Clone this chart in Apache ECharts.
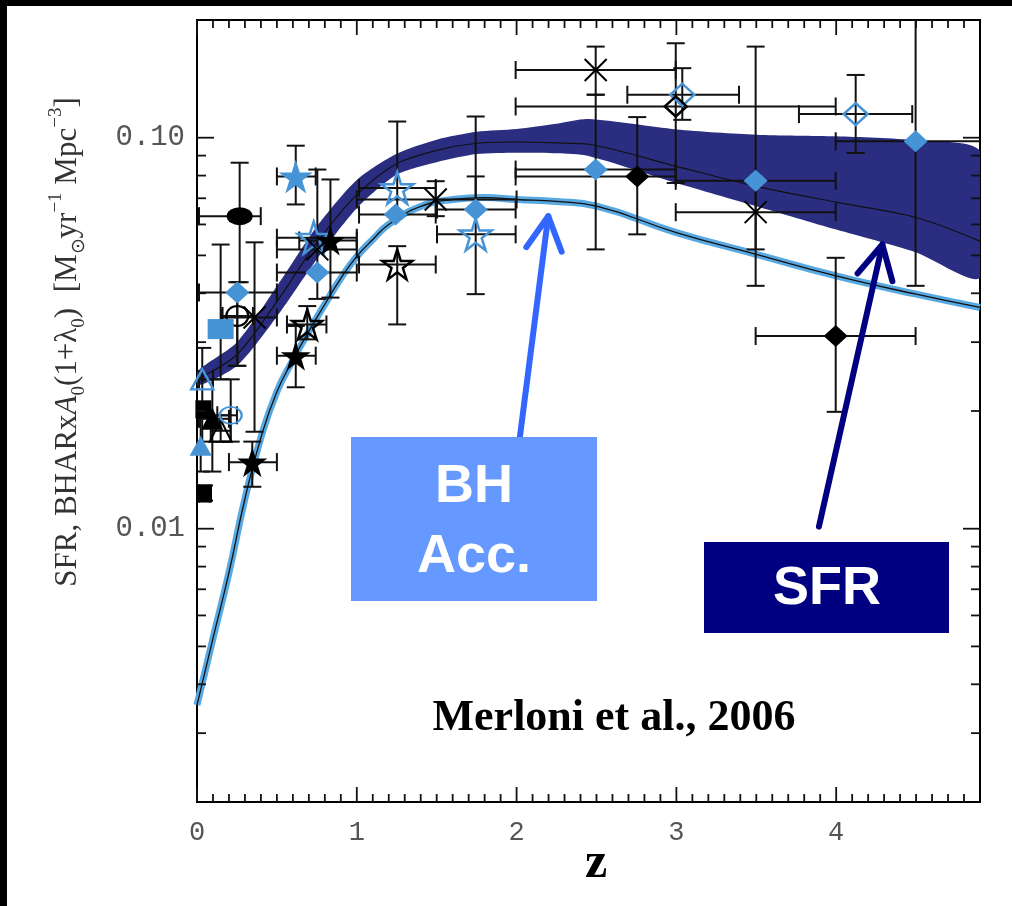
<!DOCTYPE html>
<html>
<head>
<meta charset="utf-8">
<script src="https://cdn.jsdelivr.net/npm/echarts@6/dist/echarts.min.js"></script>
<style>
  html, body { margin: 0; padding: 0; background: #fff; }
  #chart { width: 1012px; height: 906px; }
</style>
</head>
<body>
<div id="chart"></div>
<script>
// Axis ranges
const Z_MIN = 0, Z_MAX = 4.9;
const V_MIN = 0.002, V_MAX = 0.2;

// Tick positions
const xMajorTicks = [0, 1, 2, 3, 4];
const xMinorTicks = [];
for (let i = 1; i < 49; i++) { if (i % 10) xMinorTicks.push(i / 10); }
const yMajorTicks = [0.01, 0.1];
const yMinorTicks = [0.003, 0.004, 0.005, 0.006, 0.007, 0.008, 0.009,
                     0.02, 0.03, 0.04, 0.05, 0.06, 0.07, 0.08, 0.09];

// Star formation rate density: model band and central curve
const sfrZ     = [0, 0.25, 0.5, 0.75, 1.0, 1.25, 1.5, 1.75, 2.0, 2.25, 2.45, 3.0, 3.5, 4.0, 4.5, 4.9];
const sfrUpper = [0.0252, 0.0300, 0.0417, 0.0593, 0.0780, 0.0910, 0.0988, 0.1035, 0.1052, 0.1085, 0.1116, 0.1050, 0.1018, 0.1008, 0.0984, 0.0923];
const sfrLower = [0.0232, 0.0261, 0.0349, 0.0489, 0.0660, 0.0805, 0.0866, 0.0908, 0.0915, 0.0912, 0.0898, 0.0766, 0.0668, 0.0582, 0.0509, 0.0439];
const sfrMid   = [0.0241, 0.0279, 0.0381, 0.0539, 0.0715, 0.0858, 0.0928, 0.0968, 0.0975, 0.0970, 0.0962, 0.0845, 0.0751, 0.0684, 0.0625, 0.0544];

// Black-hole accretion rate density (scaled)
const bhZ    = [0, 0.1, 0.2, 0.3, 0.4, 0.5, 0.6, 0.7, 0.8, 0.9, 1.0, 1.1, 1.2, 1.4, 1.6, 1.8, 2.0, 2.25, 2.5, 3.0, 3.5, 4.0, 4.5, 4.9];
const bhRate = [0.00354, 0.00524, 0.00772, 0.01193, 0.01710, 0.0224, 0.0270, 0.0320, 0.0375, 0.0437, 0.0497, 0.0549, 0.0600, 0.0667, 0.0695, 0.0703, 0.0695, 0.0687, 0.0668, 0.0572, 0.0503, 0.0443, 0.0398, 0.0368];

// Observations: [z, value, zLow, zHigh, valueLow, valueHigh]
const blackStarFilled = [
  [0.346, 0.0148, 0.20, 0.50, 0.0128, 0.0167],
  [0.618, 0.0277, 0.50, 0.743, 0.0230, 0.0330],
  [0.835, 0.0546, 0.64, 1.00, 0.0390, 0.0782]
];
const blackStarOpen = [
  [0.69, 0.0333, 0.563, 0.81, 0.0305, 0.0371],
  [1.253, 0.0474, 1.014, 1.494, 0.0333, 0.0528]
];
const blueStarFilled = [
  [0.618, 0.0796, 0.50, 0.743, 0.0675, 0.0954]
];
const blueStarOpen = [
  [0.73, 0.0555, 0.50, 1.00, null, null],
  [1.253, 0.0744, 1.014, 1.494, 0.0636, 0.1100],
  [1.744, 0.0566, 1.502, 1.994, 0.0398, 0.0796]
];
const blackCross = [
  [0.36, 0.0347, 0.156, 0.50, 0.0177, 0.0540],
  [0.753, 0.0518, 0.50, 1.00, 0.0387, 0.0829],
  [1.494, 0.0695, 1.00, 2.00, 0.0630, 0.0774],
  [2.495, 0.1490, 1.994, 2.996, 0.1288, 0.1710],
  [3.496, 0.0645, 2.996, 3.997, 0.0518, 0.0776]
];
const blueDiamondFilled = [
  [0.252, 0.0402, 0.0125, 0.50, 0.0261, null],
  [0.753, 0.0452, 0.50, 1.00, null, null],
  [1.243, 0.0636, 1.014, 1.494, null, null],
  [1.744, 0.0655, 1.502, 1.994, null, 0.1133],
  [2.495, 0.0829, 1.994, 2.996, 0.0518, 0.1288],
  [3.496, 0.0776, 2.996, 3.997, 0.0418, 0.1710],
  [4.497, 0.0979, 3.997, 5.00, 0.0418, 0.3000]
];
const blueDiamondOpen = [
  [3.037, 0.1288, 2.693, 3.392, 0.1111, 0.1506],
  [4.122, 0.1149, 3.767, 4.476, 0.0914, 0.1447]
];
const blackDiamondOpen = [
  [2.996, 0.1202, 1.994, 3.997, 0.0766, 0.1744]
];
const blackDiamondFilled = [
  [2.755, 0.0796, 1.994, 2.996, 0.0566, 0.1129],
  [3.997, 0.0311, 3.496, 4.497, 0.0199, 0.0493]
];
const blackEllipse = [
  [0.267, 0.0630, 0.0125, 0.399, 0.0427, 0.0863]
];
const blackCircleOpen = [
  [0.252, 0.0350, 0.16, 0.35, 0.0261, 0.0427]
];
const blueSquare = [
  [0.148, 0.0324, null, null, 0.0241, 0.0533]
];
const blueTriangleOpen = [
  [0.033, 0.0241, 0.0125, 0.10, 0.0167, 0.0290]
];
const blueTriangleFilled = [
  [0.023, 0.0163, null, null, 0.0140, 0.0195]
];
const blackTriangleFilled = [
  [0.096, 0.0191, 0.0125, 0.20, 0.0140, 0.0241]
];
const blackTriangleOpen = [
  [0.148, 0.0178, 0.086, 0.21, 0.0167, 0.0195]
];
const blueCircleOpen = [
  [0.211, 0.0195, 0.127, 0.25, 0.0167, 0.0241]
];
const blackSquare = [
  [0.044, 0.0123, 0.0125, 0.08, 0.0118, 0.0129],
  [0.040, 0.0202, null, null, null, null]
];

// Annotation arrows: [zTail, valueTail, zTip, valueTip]
const bhArrow  = [2.015, 0.01647, 2.198, 0.0630];
const sfrArrow = [3.892, 0.01012, 4.289, 0.0533];

const BLUE = '#4694d6';
const NAVY_BAND = '#2b2d80';
const STAR = 'path://M50,0L61.17,34.63L97.55,34.55L68.07,55.87L79.39,90.45L50,69L20.61,90.45L31.93,55.87L2.45,34.55L38.83,34.63Z';
const CROSS = 'path://M0,0L10,10M10,0L0,10';

const ok = v => v != null && !isNaN(v);

function renderBand(params, api) {
  if (params.dataIndexInside !== 0) return null;
  const n = params.dataInsideLength;
  const pts = [];
  for (let i = 0; i < n; i++) pts.push(api.coord([api.value(0, i), api.value(2, i)]));
  for (let i = n - 1; i >= 0; i--) pts.push(api.coord([api.value(0, i), api.value(1, i)]));
  return { type: 'polygon', shape: { points: pts, smooth: 0.25 }, style: { fill: NAVY_BAND } };
}

function renderErrors(params, api) {
  const z = api.value(0), v = api.value(1);
  const zl = api.value(2), zh = api.value(3), vl = api.value(4), vh = api.value(5);
  const c = api.coord([z, v]);
  const cap = 9;
  const style = { stroke: '#111', lineWidth: 2 };
  const kids = [];
  const line = (x1, y1, x2, y2) => kids.push({ type: 'line', shape: { x1, y1, x2, y2 }, style });
  if (ok(zl) || ok(zh)) {
    const a = ok(zl) ? api.coord([zl, v])[0] : c[0];
    const b = ok(zh) ? api.coord([zh, v])[0] : c[0];
    line(a, c[1], b, c[1]);
    if (ok(zl)) line(a, c[1] - cap, a, c[1] + cap);
    if (ok(zh)) line(b, c[1] - cap, b, c[1] + cap);
  }
  if (ok(vl) || ok(vh)) {
    const a = ok(vl) ? api.coord([z, vl])[1] : c[1];
    const b = ok(vh) ? api.coord([z, vh])[1] : c[1];
    line(c[0], a, c[0], b);
    if (ok(vl)) line(c[0] - cap, a, c[0] + cap, a);
    if (ok(vh)) line(c[0] - cap, b, c[0] + cap, b);
  }
  return { type: 'group', children: kids };
}

function renderXTicks(params, api) {
  const z = api.value(0), len = api.value(2);
  const b = api.coord([z, V_MIN]), t = api.coord([z, V_MAX]);
  const style = { stroke: '#111', lineWidth: 1.8 };
  return { type: 'group', children: [
    { type: 'line', shape: { x1: b[0], y1: b[1], x2: b[0], y2: b[1] - len }, style },
    { type: 'line', shape: { x1: t[0], y1: t[1], x2: t[0], y2: t[1] + len }, style }
  ] };
}

function renderYTicks(params, api) {
  const v = api.value(1), len = api.value(2);
  const l = api.coord([Z_MIN, v]), r = api.coord([Z_MAX, v]);
  const style = { stroke: '#111', lineWidth: 1.8 };
  return { type: 'group', children: [
    { type: 'line', shape: { x1: l[0], y1: l[1], x2: l[0] + len, y2: l[1] }, style },
    { type: 'line', shape: { x1: r[0], y1: r[1], x2: r[0] - len, y2: r[1] }, style }
  ] };
}

function arrowRenderer(color) {
  return function (params, api) {
    const p0 = api.coord([api.value(0), api.value(1)]);
    const p1 = api.coord([api.value(2), api.value(3)]);
    const dx = p0[0] - p1[0], dy = p0[1] - p1[1];
    const L = Math.hypot(dx, dy), ux = dx / L, uy = dy / L;
    const ang = 28 * Math.PI / 180, arm = 38;
    const rot = a => [p1[0] + arm * (ux * Math.cos(a) - uy * Math.sin(a)),
                      p1[1] + arm * (ux * Math.sin(a) + uy * Math.cos(a))];
    const style = { stroke: color, lineWidth: 6, lineCap: 'round', lineJoin: 'round', fill: null };
    return { type: 'group', children: [
      { type: 'polyline', shape: { points: [p0, p1] }, style },
      { type: 'polyline', shape: { points: [rot(ang), p1, rot(-ang)] }, style }
    ] };
  };
}

function markers(name, data, symbol, size, fill, stroke, lw) {
  return {
    name, type: 'scatter', data: data.map(d => [d[0], d[1]]),
    symbol, symbolSize: size, z: 6, silent: true,
    itemStyle: { color: fill, borderColor: stroke || fill, borderWidth: lw || 0, opacity: 1 }
  };
}

const allPoints = [].concat(blackStarFilled, blackStarOpen, blueStarFilled, blueStarOpen,
  blackCross, blueDiamondFilled, blueDiamondOpen, blackDiamondOpen, blackDiamondFilled,
  blackEllipse, blackCircleOpen, blueSquare, blueTriangleOpen, blueTriangleFilled,
  blackTriangleFilled, blackTriangleOpen, blueCircleOpen, blackSquare);

const chart = echarts.init(document.getElementById('chart'), null, { renderer: 'canvas' });

const tickFont = { color: '#555', fontFamily: 'Liberation Mono', fontSize: 29 };

chart.setOption({
  animation: false,
  backgroundColor: '#fff',
  grid: { left: 197, right: 32, top: 20, bottom: 104, show: true, borderColor: '#000', borderWidth: 2,
          backgroundColor: 'transparent', outerBoundsMode: 'none' },
  xAxis: {
    type: 'value', min: Z_MIN, max: Z_MAX, interval: 1,
    axisLine: { show: false }, axisTick: { show: false }, splitLine: { show: false },
    axisLabel: Object.assign({ margin: 17, formatter: v => Number.isInteger(v) ? String(v) : '' }, tickFont, { fontSize: 27 })
  },
  yAxis: {
    type: 'log', logBase: 10, min: V_MIN, max: V_MAX,
    axisLine: { show: false }, axisTick: { show: false }, splitLine: { show: false },
    axisLabel: Object.assign({
      margin: 12,
      formatter: v => {
        const e = Math.log10(v);
        if (Math.abs(e + 2) < 1e-6) return '0.01';
        if (Math.abs(e + 1) < 1e-6) return '0.10';
        return '';
      }
    }, tickFont)
  },
  series: [
    { name: 'SFR band', type: 'custom', clip: true, z: 2, silent: true,
      data: sfrZ.map((z, i) => [z, sfrLower[i], sfrUpper[i]]),
      encode: { x: 0, y: [1, 2] }, renderItem: renderBand },
    { name: 'SFR', type: 'line', data: sfrZ.map((z, i) => [z, sfrMid[i]]), smooth: 0.3,
      showSymbol: false, z: 3, silent: true, lineStyle: { color: '#111', width: 1.2 } },
    { name: 'BH band', type: 'line', data: bhZ.map((z, i) => [z, bhRate[i]]), smooth: 0.5,
      showSymbol: false, z: 3, silent: true, lineStyle: { color: '#58a8e2', width: 7 } },
    { name: 'BH Acc.', type: 'line', data: bhZ.map((z, i) => [z, bhRate[i]]), smooth: 0.5,
      showSymbol: false, z: 3, silent: true, lineStyle: { color: '#111', width: 1.3 } },
    { name: 'errors', type: 'custom', clip: true, z: 4, silent: true,
      data: allPoints, encode: { x: 0, y: 1 }, renderItem: renderErrors },

    markers('blueStarFilled', blueStarFilled, STAR, 34, BLUE),
    markers('blueStarOpen', blueStarOpen, STAR, 32, 'rgba(255,255,255,0)', BLUE, 2.5),
    markers('blackStarFilled', blackStarFilled, STAR, 30, '#000'),
    markers('blackStarOpen', blackStarOpen, STAR, 30, 'rgba(255,255,255,0)', '#000', 2.5),
    markers('blueDiamondFilled', blueDiamondFilled, 'diamond', [24, 22], BLUE),
    markers('blueDiamondOpen', blueDiamondOpen, 'diamond', [24, 22], 'rgba(255,255,255,0)', BLUE, 2.5),
    markers('blackDiamondOpen', blackDiamondOpen, 'diamond', [22, 20], 'rgba(255,255,255,0)', '#000', 2.5),
    markers('blackDiamondFilled', blackDiamondFilled, 'diamond', [24, 22], '#000'),
    markers('blackCross', blackCross, CROSS, 22, 'rgba(0,0,0,0)', '#000', 2),
    markers('blackEllipse', blackEllipse, 'circle', [26, 18], '#000'),
    markers('blackCircleOpen', blackCircleOpen, 'circle', [22, 20], 'rgba(255,255,255,0)', '#000', 2),
    markers('blueSquare', blueSquare, 'rect', [26, 20], BLUE),
    markers('blueTriangleOpen', blueTriangleOpen, 'triangle', [22, 20], 'rgba(255,255,255,0)', BLUE, 2.5),
    markers('blueTriangleFilled', blueTriangleFilled, 'triangle', [22, 20], BLUE),
    markers('blackTriangleFilled', blackTriangleFilled, 'triangle', [22, 22], '#000'),
    markers('blackTriangleOpen', blackTriangleOpen, 'triangle', [22, 22], 'rgba(255,255,255,0)', '#000', 2),
    markers('blueCircleOpen', blueCircleOpen, 'circle', [22, 17], 'rgba(255,255,255,0)', BLUE, 2),
    markers('blackSquare', blackSquare, 'rect', [16, 18], '#000'),

    { name: 'x ticks', type: 'custom', z: 7, silent: true, encode: { x: 0, y: 1 },
      data: xMajorTicks.map(z => [z, V_MIN, 15]).concat(xMinorTicks.map(z => [z, V_MIN, 8])),
      renderItem: renderXTicks },
    { name: 'y ticks', type: 'custom', z: 7, silent: true, encode: { x: 0, y: 1 },
      data: yMajorTicks.map(v => [Z_MIN, v, 17]).concat(yMinorTicks.map(v => [Z_MIN, v, 9])),
      renderItem: renderYTicks },

    { name: 'BH arrow', type: 'custom', z: 8, silent: true, encode: { x: [0, 2], y: [1, 3] },
      data: [bhArrow], renderItem: arrowRenderer('#3366ff') },
    { name: 'SFR arrow', type: 'custom', z: 8, silent: true, encode: { x: [0, 2], y: [1, 3] },
      data: [sfrArrow], renderItem: arrowRenderer('#000080') }
  ],
  graphic: [
    { type: 'rect', z: 100, shape: { x: 0, y: 0, width: 1012, height: 6 }, style: { fill: '#000' } },
    { type: 'rect', z: 100, shape: { x: 0, y: 0, width: 7, height: 906 }, style: { fill: '#000' } },
    { type: 'text', z: 100, x: 68, y: 342, rotation: Math.PI / 2,
      style: {
        text: '{m|SFR, BHARx}{a|A}{s|0}{m|(1+λ}{s|0}{m|)  [M}{s|⊙}{m|yr}{p|−1}{m| Mpc}{p|−3}{m|]}',
        align: 'center', verticalAlign: 'middle', textAlign: 'center', textVerticalAlign: 'middle',
        fill: '#333',
        rich: {
          m: { fontFamily: 'Liberation Serif', fontSize: 31, lineHeight: 42, verticalAlign: 'middle', color: '#333' },
          a: { fontFamily: 'Liberation Serif', fontStyle: 'italic', fontSize: 31, lineHeight: 42, verticalAlign: 'middle', color: '#333' },
          s: { fontFamily: 'Liberation Serif', fontSize: 19, lineHeight: 42, verticalAlign: 'bottom', color: '#333' },
          p: { fontFamily: 'Liberation Serif', fontSize: 19, lineHeight: 42, verticalAlign: 'top', color: '#333' }
        }
      } },
    { type: 'text', z: 100, x: 596, y: 864,
      style: { text: 'z', font: 'bold 50px "Liberation Serif"', fill: '#000',
               align: 'center', verticalAlign: 'middle', textAlign: 'center', textVerticalAlign: 'middle' } },
    { type: 'text', z: 100, x: 614, y: 719,
      style: { text: 'Merloni et al., 2006', font: 'bold 44px "Liberation Serif"', fill: '#000',
               align: 'center', verticalAlign: 'middle', textAlign: 'center', textVerticalAlign: 'middle' } },
    { type: 'rect', z: 100, shape: { x: 351, y: 437, width: 246, height: 164 }, style: { fill: '#6699ff' } },
    { type: 'text', z: 101, x: 474, y: 522,
      style: { text: 'BH\nAcc.', font: 'bold 54px "Liberation Sans"', lineHeight: 70, fill: '#fff',
               align: 'center', verticalAlign: 'middle', textAlign: 'center', textVerticalAlign: 'middle' } },
    { type: 'rect', z: 100, shape: { x: 704, y: 542, width: 245, height: 91 }, style: { fill: '#000080' } },
    { type: 'text', z: 101, x: 827, y: 589,
      style: { text: 'SFR', font: 'bold 54px "Liberation Sans"', fill: '#fff',
               align: 'center', verticalAlign: 'middle', textAlign: 'center', textVerticalAlign: 'middle' } }
  ]
});
</script>
</body>
</html>
